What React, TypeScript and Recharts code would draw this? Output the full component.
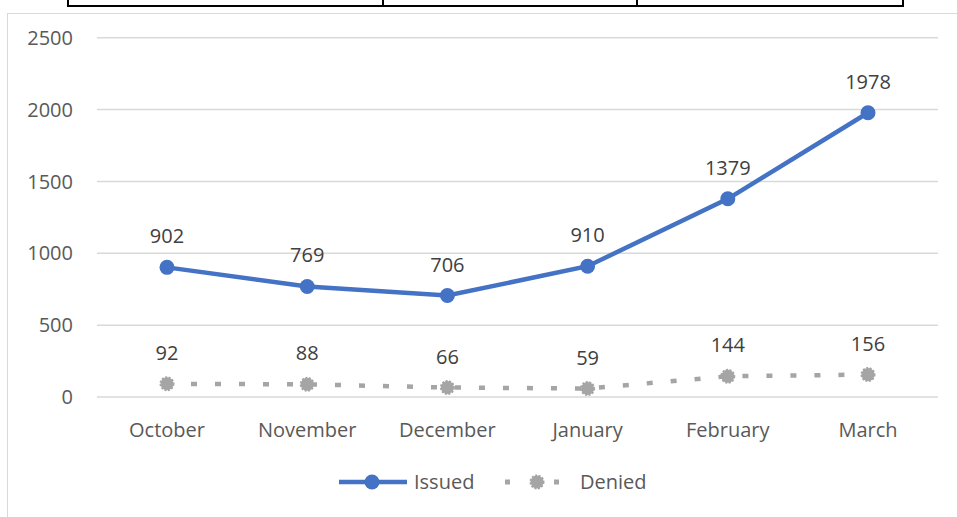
import React from 'react';
import { LineChart, Line, XAxis, YAxis, CartesianGrid, LabelList, Legend } from 'recharts';

const months = ['October', 'November', 'December', 'January', 'February', 'March'];
const issued = [902, 769, 706, 910, 1379, 1978];
const denied = [92, 88, 66, 59, 144, 156];
const yTicks = [0, 500, 1000, 1500, 2000, 2500];

const data = months.map((m, i) => ({ month: m, Issued: issued[i], Denied: denied[i] }));

const FONT = '"Open Sans", sans-serif';
const BLUE = '#4472C4';
const GRAY = '#A5A5A5';

const DeniedDot = (props: any) => {
  const { cx, cy } = props;
  if (cx == null || cy == null) return null;
  return (
    <g>
      <circle cx={cx} cy={cy} r={6.5} fill={GRAY} />
      <circle cx={cx} cy={cy} r={6.5} fill="none" stroke={GRAY} strokeWidth={2} strokeDasharray="2 1.5" />
    </g>
  );
};

const LegendContent = () => (
  <svg width={957} height={40} style={{ display: 'block' }}>
    <line x1={339} y1={20} x2={407} y2={20} stroke={BLUE} strokeWidth={4.5} />
    <circle cx={372} cy={20} r={7.5} fill={BLUE} />
    <text x={414} y={27} fontFamily={FONT} fontSize={20} fill="#595959">Issued</text>
    <rect x={505} y={17.5} width={5} height={5} fill={GRAY} />
    <rect x={554} y={17.5} width={5} height={5} fill={GRAY} />
    <DeniedDot cx={537} cy={20} />
    <text x={580} y={27} fontFamily={FONT} fontSize={20} fill="#595959">Denied</text>
  </svg>
);

export default function App() {
  return (
    <div style={{ position: 'absolute', left: 0, top: 0, width: 957, height: 517, overflow: 'hidden', background: '#fff' }}>
      <div style={{ position: 'absolute', left: 7, top: 13, width: 960, height: 520, borderLeft: '1.5px solid #D9D9D9', borderTop: '1.5px solid #D9D9D9' }} />
      <div style={{ position: 'absolute', left: 67, top: -12, width: 837, height: 19, border: '2px solid #000', boxSizing: 'border-box' }} />
      <div style={{ position: 'absolute', left: 382, top: -12, width: 2, height: 19, background: '#000' }} />
      <div style={{ position: 'absolute', left: 636, top: -12, width: 2, height: 19, background: '#000' }} />
      <div style={{ position: 'absolute', left: 0, top: 0 }}>
        <LineChart width={957} height={517} data={data} margin={{ top: 37.7, right: 19, left: 0, bottom: 90 }}>
          <CartesianGrid horizontal vertical={false} stroke="#D9D9D9" strokeWidth={1.5} />
          <XAxis
            dataKey="month"
            height={30}
            axisLine={false}
            tickLine={false}
            tickSize={0}
            tickMargin={26}
            interval={0}
            padding={{ left: 70, right: 70 }}
            tick={{ fill: '#595959', fontSize: 20, fontFamily: FONT }}
          />
          <YAxis
            width={97}
            domain={[0, 2500]}
            ticks={yTicks}
            axisLine={false}
            tickLine={false}
            tickSize={0}
            tickMargin={24}
            tick={{ fill: '#595959', fontSize: 20, fontFamily: FONT }}
          />
          <Legend
            layout="horizontal"
            verticalAlign="middle"
            align="center"
            content={() => <LegendContent />}
            wrapperStyle={{ position: 'absolute', left: 0, top: 462, width: 957 }}
          />
          <Line
            type="linear"
            dataKey="Issued"
            stroke={BLUE}
            strokeWidth={4.5}
            dot={{ r: 7.5, fill: BLUE, stroke: BLUE, strokeWidth: 0 }}
            activeDot={false}
            isAnimationActive={false}
          >
            <LabelList dataKey="Issued" position="top" offset={24} fill="#404040" fontSize={20} fontFamily={FONT} />
          </Line>
          <Line
            type="linear"
            dataKey="Denied"
            stroke={GRAY}
            strokeWidth={4.5}
            strokeDasharray="6 18"
            dot={<DeniedDot />}
            activeDot={false}
            isAnimationActive={false}
          >
            <LabelList dataKey="Denied" position="top" offset={24} fill="#404040" fontSize={20} fontFamily={FONT} />
          </Line>
        </LineChart>
      </div>
    </div>
  );
}
